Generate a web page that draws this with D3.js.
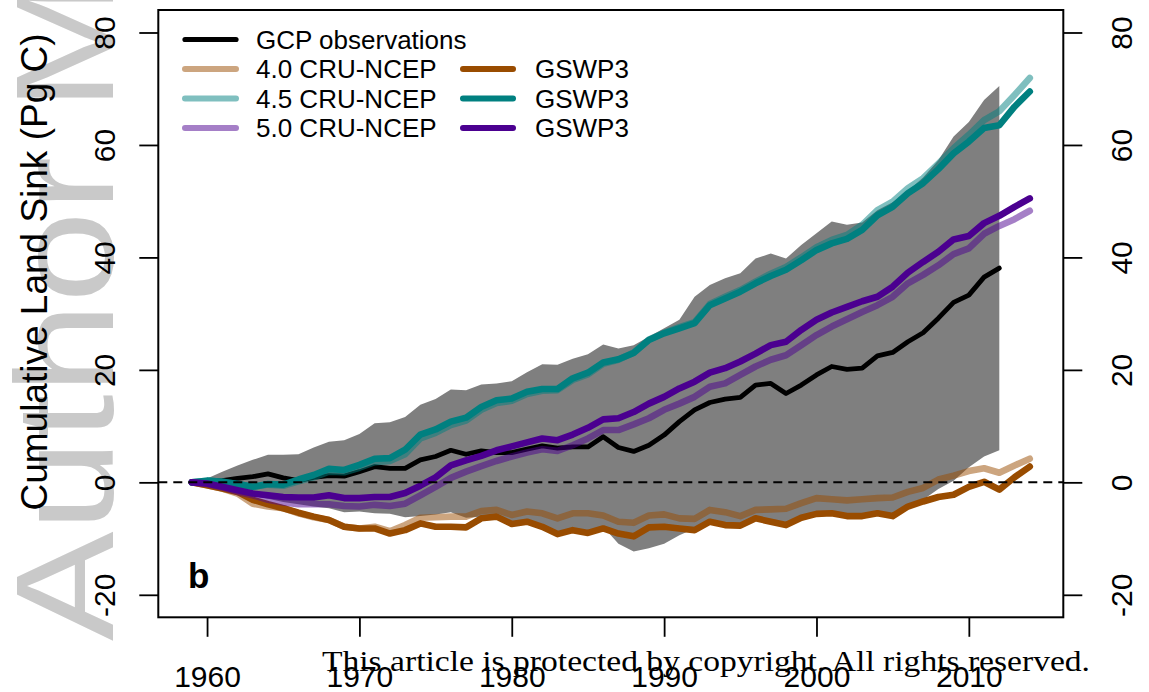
<!DOCTYPE html>
<html><head><meta charset="utf-8">
<script src="https://cdn.jsdelivr.net/npm/d3@7"></script>
<style>html,body{margin:0;padding:0;background:#fff;} svg{display:block;}</style>
</head><body>
<svg id="chart" width="1149" height="692"></svg>
<script>
// ---------- DATA ----------
const years = [1959,1960,1961,1962,1963,1964,1965,1966,1967,1968,1969,1970,1971,1972,1973,1974,1975,1976,1977,1978,
  1979,1980,1981,1982,1983,1984,1985,1986,1987,1988,1989,1990,1991,1992,1993,1994,1995,1996,1997,1998,
  1999,2000,2001,2002,2003,2004,2005,2006,2007,2008,2009,2010,2011,2012,2013,2014];

// GCP observations (1959-2012)
const gcpObs = [0,0.2,0.3,0.7,1.0,1.5,0.8,0.3,0.9,1.2, 1.1,1.9,2.8,2.5,2.5,4.0,4.6,5.7,5.0,5.6,
  5.3,5.3,5.9,6.5,6.1,6.3,6.3,8.1,6.2,5.5, 6.6,8.4,10.8,12.9,14.2,14.8,15.1,17.3,17.6,15.8,
  17.3,19.1,20.6,20.1,20.3,22.5,23.1,25.0,26.6,29.2, 32.0,33.3,36.5,38.1];

// grey uncertainty band (1959-2012)
const bandUpper = [0,0.7,1.9,3.0,4.0,4.9,4.9,5.0,6.2,7.2, 7.5,8.6,10.5,10.7,11.6,13.8,14.8,16.5,16.4,17.4,
  17.6,18.0,19.6,21.0,20.9,22.0,22.8,24.5,23.8,24.4, 25.9,27.4,28.9,33.0,35.1,36.3,37.2,39.8,40.7,39.8,
  42.2,44.3,46.4,45.8,46.2,48.4,49.8,51.8,54.2,57.3, 61.5,64.1,68.0,70.5];
const bandLower = [0,-0.6,-1.1,-1.8,-2.4,-2.9,-3.5,-3.9,-4.3,-4.6, -5.3,-5.2,-5.5,-5.6,-6.2,-6.0,-5.7,-5.3,-6.3,-6.1,
  -5.8,-7.1,-6.7,-7.6,-8.9,-8.2,-8.7,-7.9,-10.9,-12.3, -11.7,-10.9,-9.4,-8.2,-6.7,-7.3,-7.4,-6.1,-6.7,-7.3,
  -6.0,-5.3,-5.2,-5.7,-5.7,-5.2,-5.7,-4.2,-3.1,-1.2, 0.3,2.7,4.6,5.7];

// model runs (1959-2014)
const cru40 = [0,-0.5,-1.1,-2.0,-3.8,-4.3,-4.6,-5.5,-6.2,-6.7, -7.9,-8.2,-7.9,-8.7,-7.6,-6.3,-6.2,-6.1,-6.1,-5.1,
  -4.9,-5.8,-5.2,-5.5,-6.4,-5.5,-5.5,-5.9,-7.0,-7.2, -5.9,-5.7,-6.4,-6.5,-4.9,-5.3,-6.0,-4.9,-4.8,-4.7,
  -3.7,-2.8,-3.0,-3.2,-3.0,-2.8,-2.7,-1.7,-1.0,0.5, 1.2,2.0,2.5,1.7,3.0,4.2];
const gswp40 = [0,-0.5,-1.1,-1.7,-3.1,-3.9,-4.6,-5.4,-6.1,-6.7, -7.9,-8.2,-8.2,-9.1,-8.5,-7.3,-7.9,-7.9,-8.0,-6.4,
  -6.1,-7.4,-7.0,-7.9,-9.2,-8.5,-9.0,-8.2,-9.1,-9.6, -8.0,-7.9,-8.2,-8.5,-7.0,-7.6,-7.7,-6.4,-7.0,-7.6,
  -6.3,-5.6,-5.5,-6.0,-6.0,-5.5,-6.0,-4.3,-3.4,-2.6, -2.2,-0.8,0.1,-1.3,0.9,2.8];
const cru45 = [0,0.3,0.1,-0.3,-0.8,-0.4,-0.6,0.2,0.9,1.9, 1.8,2.6,3.6,3.8,5.0,7.8,8.8,10.2,11.0,12.9,
  14.1,14.5,15.7,16.3,16.4,18.2,19.2,21.1,21.8,23.1, 25.4,26.6,27.6,28.5,31.7,33.0,34.2,35.7,37.1,38.3,
  40.0,41.8,43.1,44.0,45.8,48.4,49.9,52.3,54.1,56.7, 59.4,61.8,64.4,66.0,68.9,71.9];
const gswp45 = [0,0.3,0.1,-0.3,-0.8,-0.3,-0.4,0.5,1.3,2.4, 2.2,3.1,4.2,4.3,5.8,8.5,9.4,10.8,11.5,13.4,
  14.6,14.9,16.1,16.6,16.6,18.5,19.5,21.3,21.9,23.0, 25.3,26.5,27.4,28.3,31.5,32.7,33.9,35.4,36.7,37.8,
  39.5,41.3,42.5,43.3,44.9,47.5,49.0,51.4,53.2,55.7, 58.5,60.6,63.0,63.5,66.8,69.5];
const cru50 = [0,-0.3,-0.9,-1.7,-2.3,-3.1,-3.6,-3.9,-3.9,-3.9, -4.2,-4.3,-4.0,-4.2,-3.8,-2.3,-0.8,0.8,1.9,2.9,
  3.8,4.6,5.3,5.9,5.6,6.6,7.8,9.3,9.3,10.3, 11.4,12.9,14.0,15.2,17.0,17.6,19.1,20.6,21.8,22.6,
  24.4,26.2,27.7,29.0,30.3,31.5,33.0,35.4,36.9,38.6, 40.6,41.6,44.2,45.6,46.8,48.3];
const gswp50 = [0,-0.2,-0.8,-1.4,-2.0,-2.3,-2.6,-2.7,-2.7,-2.3, -2.8,-2.8,-2.6,-2.6,-1.9,-0.6,0.9,3.0,3.9,4.7,
  5.7,6.4,7.1,7.8,7.5,8.5,9.7,11.2,11.4,12.5, 14.0,15.2,16.7,17.9,19.5,20.3,21.5,22.9,24.4,25.0,
  27.1,28.9,30.2,31.2,32.2,33.0,34.8,37.3,39.2,41.0, 43.2,43.8,46.1,47.4,49.0,50.5];

const xTicks = [1960,1970,1980,1990,2000,2010];
const yTicks = [-20,0,20,40,60,80];
const versionLabels = ["4.0 CRU-NCEP","4.5 CRU-NCEP","5.0 CRU-NCEP"];
const gswpLabel = "GSWP3";
const obsLabel = "GCP observations";
const versionColors = ["#994c00","#008080","#4b0090"];

// ---------- DRAWING ----------
const svg = d3.select("#chart");
const font = "'Liberation Sans', Arial, Helvetica, sans-serif";
const plot = {left:158.3, right:1063.3, top:10, bottom:617.3};
const x = d3.scaleLinear().domain([1956.8, 2016.2]).range([plot.left, plot.right]);
const y = d3.scaleLinear().domain([-24, 84]).range([plot.bottom, plot.top]);

// background watermark
svg.append("text")
  .attr("transform","translate(113,641) rotate(-90)")
  .attr("font-family",font).attr("font-size",140).attr("fill","#c9c9c9")
  .attr("textLength",1334).attr("lengthAdjust","spacingAndGlyphs")
  .text("Author Manuscript");

// grey band
const area = d3.area()
  .x((d,i)=>x(years[i]))
  .y0((d,i)=>y(bandLower[i]))
  .y1(d=>y(d));
svg.append("path").datum(bandUpper).attr("d",area).attr("fill","#7f7f7f");

const line = d3.line().x((d,i)=>x(years[i])).y(d=>y(d));

// observations
svg.append("path").datum(gcpObs).attr("d",line)
  .attr("fill","none").attr("stroke","#000").attr("stroke-width",4.8)
  .attr("stroke-linejoin","round").attr("stroke-linecap","round");

// models
const models = [
  {data:cru40, color:versionColors[0], op:0.5},
  {data:gswp40, color:versionColors[0], op:1},
  {data:cru45, color:versionColors[1], op:0.5},
  {data:gswp45, color:versionColors[1], op:1},
  {data:cru50, color:versionColors[2], op:0.5},
  {data:gswp50, color:versionColors[2], op:1}
];
models.forEach(m=>{
  svg.append("path").datum(m.data).attr("d",line)
    .attr("fill","none").attr("stroke",m.color).attr("stroke-opacity",m.op)
    .attr("stroke-width",6.6).attr("stroke-linejoin","round").attr("stroke-linecap","round");
});

// zero line
svg.append("line")
  .attr("x1",x.range()[0]).attr("x2",x.range()[1])
  .attr("y1",y(0)).attr("y2",y(0))
  .attr("stroke","#000").attr("stroke-width",2).attr("stroke-dasharray","9,6");

// frame
svg.append("rect")
  .attr("x",plot.left).attr("y",plot.top)
  .attr("width",plot.right-plot.left).attr("height",plot.bottom-plot.top)
  .attr("fill","none").attr("stroke","#000").attr("stroke-width",2);

function styleAxis(g){
  g.select(".domain").remove();
  g.selectAll(".tick line").attr("stroke","#000").attr("stroke-width",1.8);
  g.selectAll(".tick text").attr("font-family",font).attr("font-size",30).attr("fill","#000");
}
const gL = svg.append("g").attr("transform",`translate(${plot.left},0)`)
  .call(d3.axisLeft(y).tickValues(yTicks).tickSize(19).tickFormat(d=>String(d)));
styleAxis(gL);
gL.selectAll(".tick text").attr("x",0).attr("dy",0).attr("text-anchor","middle")
  .attr("transform","translate(-43.3,0) rotate(-90)");

const gR = svg.append("g").attr("transform",`translate(${plot.right},0)`)
  .call(d3.axisRight(y).tickValues(yTicks).tickSize(19).tickFormat(d=>String(d)));
styleAxis(gR);
gR.selectAll(".tick text").attr("x",0).attr("dy",0).attr("text-anchor","middle")
  .attr("transform","translate(69,0) rotate(-90)");

const gB = svg.append("g").attr("transform",`translate(0,${plot.bottom})`)
  .call(d3.axisBottom(x).tickValues(xTicks).tickSize(19.5).tickFormat(d=>String(d)));
styleAxis(gB);
gB.selectAll(".tick text").attr("y",69.5).attr("dy",0);

// y axis title
svg.append("text")
  .attr("transform","translate(47,272) rotate(-90)")
  .attr("text-anchor","middle").attr("font-family",font).attr("font-size",37).attr("fill","#000")
  .text("Cumulative Land Sink (Pg C)");

// legend
const rowY = [39.5, 69, 98.5, 128];
const leg = svg.append("g");
const legendEntries = [
  {label:obsLabel, color:"#000", op:1, col:0, row:0, w:5.2},
  ...versionLabels.map((l,i)=>({label:l, color:versionColors[i], op:0.5, col:0, row:i+1, w:6})),
  ...versionLabels.map((l,i)=>({label:gswpLabel, color:versionColors[i], op:1, col:1, row:i+1, w:6}))
];
const colLine = [[185,236],[463,513]];
const colText = [256,535];
legendEntries.forEach(e=>{
  leg.append("line")
    .attr("x1",colLine[e.col][0]).attr("x2",colLine[e.col][1])
    .attr("y1",rowY[e.row]).attr("y2",rowY[e.row])
    .attr("stroke",e.color).attr("stroke-opacity",e.op).attr("stroke-width",e.w)
    .attr("stroke-linecap","round");
  leg.append("text")
    .attr("x",colText[e.col]).attr("y",rowY[e.row]+9.3)
    .attr("font-family",font).attr("font-size",26).attr("fill","#000")
    .text(e.label);
});

// panel letter
svg.append("text").attr("x",188).attr("y",588)
  .attr("font-family",font).attr("font-size",35).attr("font-weight","bold").attr("fill","#000")
  .text("b");

// copyright notice
svg.append("text").attr("x",322).attr("y",671)
  .attr("font-family","'Liberation Serif', 'DejaVu Serif', serif").attr("font-size",30).attr("fill","#000")
  .attr("textLength",768).attr("lengthAdjust","spacingAndGlyphs")
  .text("This article is protected by copyright. All rights reserved.");
</script>
</body></html>
